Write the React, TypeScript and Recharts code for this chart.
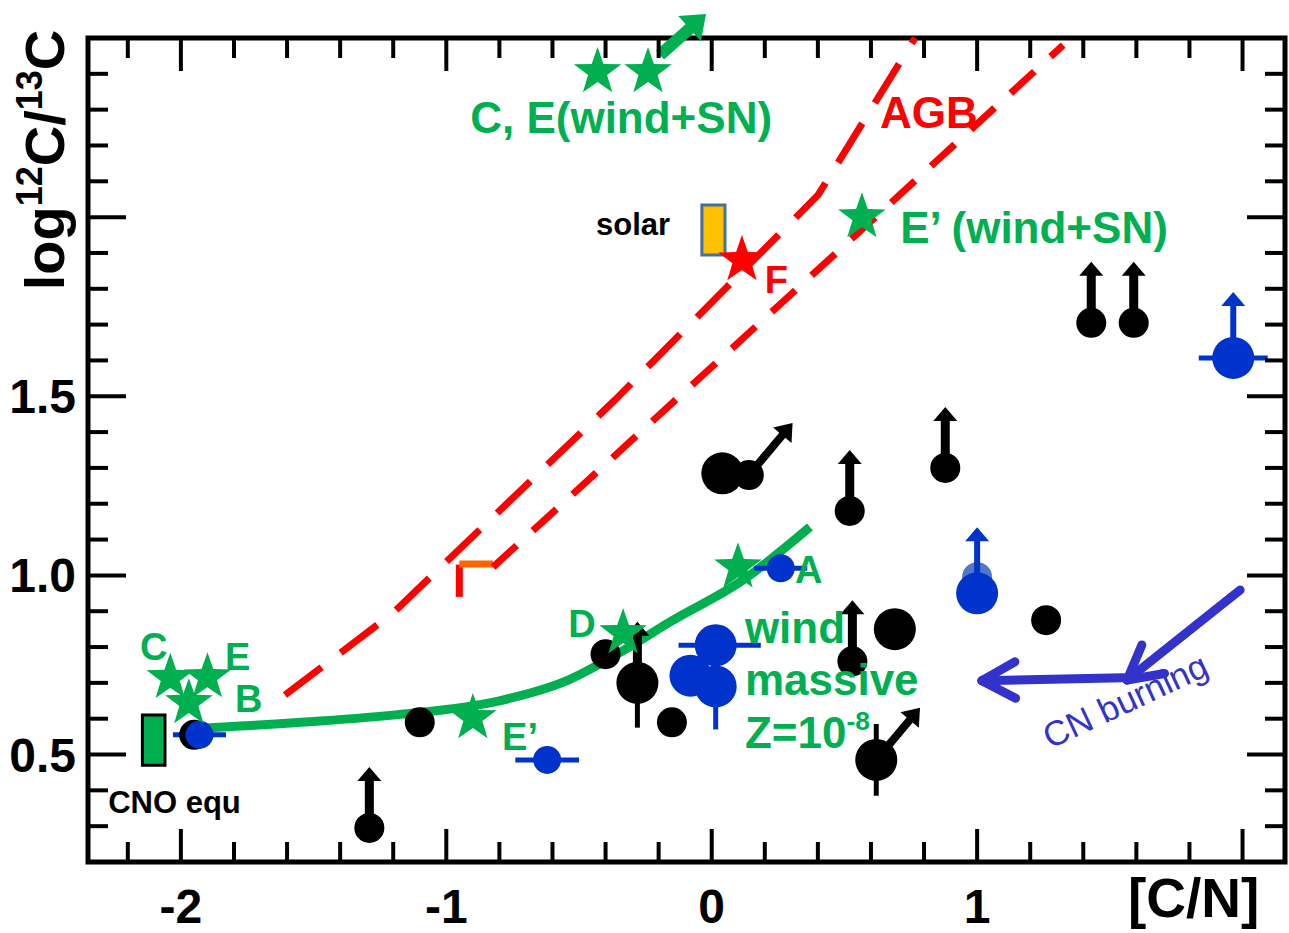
import React from 'react';
import { ComposedChart, XAxis, YAxis, Scatter, Line, ErrorBar, ReferenceArea, ReferenceLine } from 'recharts';

// ---- chart values ----

const xTicks = [-2.2, -2, -1.8, -1.6, -1.4, -1.2, -1, -0.8, -0.6, -0.4, -0.2, 0, 0.2, 0.4, 0.6, 0.8, 1, 1.2, 1.4, 1.6, 1.8, 2];
const xTickLabels = [
  { v: -2, text: '-2' },
  { v: -1, text: '-1' },
  { v: 0, text: '0' },
  { v: 1, text: '1' },
];
const yTicks = [0.3, 0.4, 0.5, 0.6, 0.7, 0.8, 0.9, 1, 1.1, 1.2, 1.3, 1.4, 1.5, 1.6, 1.7, 1.8, 1.9, 2, 2.1, 2.2, 2.3, 2.4];
const yTickLabels = [
  { v: 0.5, text: '0.5' },
  { v: 1, text: '1.0' },
  { v: 1.5, text: '1.5' },
];

// AGB model tracks (red dashed)
const agbUpper = [
  { x: -1.608, y: 0.666 },
  { x: -1.201, y: 0.895 },
  { x: -0.364, y: 1.49 },
  { x: 0.401, y: 2.062 },
  { x: 0.766, y: 2.5 },
];
const agbLower = [
  { x: -0.824, y: 1.023 },
  { x: 1.324, y: 2.48 },
];
// start of the lower track
const agbKinkV = [{ x: -0.951, y: 0.94 }, { x: -0.951, y: 1.03 }];
const agbKinkH = [{ x: -0.951, y: 1.032 }, { x: -0.824, y: 1.032 }];

// massive star wind, Z=1e-8 (green solid)
const windCurve = [
  { x: -1.98, y: 0.572 },
  { x: -1.5, y: 0.592 },
  { x: -1.175, y: 0.612 },
  { x: -0.8, y: 0.65 },
  { x: -0.55, y: 0.705 },
  { x: -0.334, y: 0.79 },
  { x: -0.157, y: 0.87 },
  { x: 0.118, y: 0.987 },
  { x: 0.37, y: 1.135 },
];

// observations
const blackSmall = [
  { x: -1.95, y: 0.555 },
  { x: -1.29, y: 0.295, lim: 'up' },
  { x: -1.1, y: 0.59 },
  { x: -0.4, y: 0.78 },
  { x: -0.15, y: 0.59 },
  { x: 0.14, y: 1.28, lim: 'diag' },
  { x: 0.52, y: 1.18, lim: 'up' },
  { x: 0.88, y: 1.3, lim: 'up' },
  { x: 0.53, y: 0.76, lim: 'up' },
  { x: 1.26, y: 0.875 },
  { x: 1.43, y: 1.705, lim: 'up' },
  { x: 1.59, y: 1.705, lim: 'up' },
];
const blackBig = [
  { x: 0.04, y: 1.285, ey: 0 },
  { x: -0.28, y: 0.7, lim: 'up', ey: [0.125, 0] },
  { x: 0.69, y: 0.85, ey: 0 },
  { x: 0.62, y: 0.485, lim: 'diag', ey: 0.1 },
];
const blueGhost = [{ x: 1.0, y: 0.995 }];
const blueSmall = [
  { x: -1.93, y: 0.555, ex: 0.1 },
  { x: -0.62, y: 0.485, ex: 0.12 },
  { x: 0.26, y: 1.02, ex: 0.1 },
];
const blueBig = [
  { x: 0.015, y: 0.805, ex: [0.14, 0.17], ey: 0 },
  { x: -0.08, y: 0.72, ex: 0, ey: 0 },
  { x: 0.015, y: 0.69, ex: 0, ey: [0.12, 0] },
  { x: 1.0, y: 0.95, lim: 'up', ex: 0, ey: 0 },
  { x: 1.965, y: 1.607, lim: 'up', ex: 0.13, ey: 0 },
];

// models
const greenStars = [
  { x: -0.43, y: 2.405 },
  { x: -0.24, y: 2.405, lim: 'diag' },
  { x: 0.566, y: 2.0 },
  { x: -2.04, y: 0.714 },
  { x: -1.9, y: 0.716 },
  { x: -1.97, y: 0.644 },
  { x: -0.9, y: 0.602 },
  { x: -0.334, y: 0.839 },
  { x: 0.099, y: 1.023 },
];
const redStars = [{ x: 0.114, y: 1.88 }];

const cnoBox = { x1: -2.145, x2: -2.06, y1: 0.47, y2: 0.61 };
const solarBox = { x1: -0.037, x2: 0.05, y1: 1.894, y2: 2.034 };

const cnArrows = [
  { x1: 1.991, y1: 0.959, x2: 1.565, y2: 0.708 },
  { x1: 1.55, y1: 0.714, x2: 1.018, y2: 0.706 },
];

// text annotations (data coordinates of the text start)
const greenBigNotes = [
  { x: -0.91, y: 2.235, text: 'C, E(wind+SN)' },
  { x: 0.71, y: 1.928, text: 'E\u2019 (wind+SN)' },
  { x: 0.125, y: 0.811, text: 'wind' },
  { x: 0.125, y: 0.666, text: 'massive' },
  { x: 0.125, y: 0.518, text: 'Z=10', sup: '-8' },
];
const greenLetterNotes = [
  { x: -2.154, y: 0.764, text: 'C' },
  { x: -1.834, y: 0.736, text: 'E' },
  { x: -1.796, y: 0.619, text: 'B' },
  { x: -0.79, y: 0.513, text: 'E\u2019' },
  { x: -0.541, y: 0.828, text: 'D' },
  { x: 0.314, y: 0.979, text: 'A' },
];
const redNotes = [
  { x: 0.634, y: 2.249, text: 'AGB', big: true },
  { x: 0.2, y: 1.788, text: 'F' },
];
const blackNotes = [
  { x: -0.436, y: 1.95, text: 'solar' },
  { x: -2.274, y: 0.337, text: 'CNO equ' },
];
const cnNotes = [{ x: 1.275, y: 0.515, text: 'CN burning' }];

// ---- layout ----
const W = 1289;
const H = 933;
const Y_AXIS_W = 88;
const X_AXIS_H = 71;
const MARGIN = { top: 38, right: 4, bottom: 0, left: 0 };
const PLOT_L = Y_AXIS_W;
const PLOT_R = W - MARGIN.right;
const PLOT_T = MARGIN.top;
const PLOT_B = H - X_AXIS_H;

const FONT = '"Liberation Sans", Arial, Helvetica, sans-serif';
const GREEN = '#00B050';
const RED = '#FF0000';
const BLUE = '#0033CC';
const CN_BLUE = '#3333CC';

const near = (a: number, b: number) => Math.abs(a - b) < 1e-6;

function XTick(props: any) {
  const { x, payload } = props;
  const v = payload.value;
  const len = near(v, Math.round(v)) ? 33 : 20;
  const lbl = xTickLabels.find((t) => near(t.v, v));
  return (
    <g>
      <line x1={x} x2={x} y1={PLOT_B} y2={PLOT_B - len} stroke="#000" strokeWidth={4} />
      <line x1={x} x2={x} y1={PLOT_T} y2={PLOT_T + len} stroke="#000" strokeWidth={4} />
      {lbl && (
        <text x={x} y={PLOT_B + 61} textAnchor="middle" fontFamily={FONT} fontWeight="bold" fontSize={48} fill="#000">
          {lbl.text}
        </text>
      )}
    </g>
  );
}

function YTick(props: any) {
  const { y, payload } = props;
  const v = payload.value;
  const len = near(v * 2, Math.round(v * 2)) ? 38 : 20;
  const lbl = yTickLabels.find((t) => near(t.v, v));
  return (
    <g>
      <line x1={PLOT_L} x2={PLOT_L + len} y1={y} y2={y} stroke="#000" strokeWidth={4} />
      <line x1={PLOT_R} x2={PLOT_R - len} y1={y} y2={y} stroke="#000" strokeWidth={4} />
      {lbl && (
        <text x={76} y={y + 17} textAnchor="end" fontFamily={FONT} fontWeight="bold" fontSize={48} fill="#000">
          {lbl.text}
        </text>
      )}
    </g>
  );
}

function XTitle() {
  return (
    <text x={1128} y={917} fontFamily={FONT} fontWeight="bold" fontSize={55} fill="#000">
      [C/N]
    </text>
  );
}

function YTitle() {
  return (
    <text
      x={64}
      y={160}
      transform="rotate(-90 64 160)"
      textAnchor="middle"
      fontFamily={FONT}
      fontWeight="bold"
      fontSize={56}
      fill="#000"
    >
      log<tspan fontSize={36} dy={-22}>12</tspan>
      <tspan dy={22}>C/</tspan>
      <tspan fontSize={36} dy={-22}>13</tspan>
      <tspan dy={22}>C</tspan>
    </text>
  );
}

function Arrow({ x1, y1, x2, y2, color, w, head, hw }: any) {
  const a = Math.atan2(y2 - y1, x2 - x1);
  const c = Math.cos(a);
  const s = Math.sin(a);
  const bx = x2 - head * c;
  const by = y2 - head * s;
  return (
    <g>
      <line x1={x1} y1={y1} x2={bx + c} y2={by + s} stroke={color} strokeWidth={w} />
      <polygon points={`${x2},${y2} ${bx - s * hw},${by + c * hw} ${bx + s * hw},${by - c * hw}`} fill={color} />
    </g>
  );
}

function limitArrow(lim: string | undefined, cx: number, cy: number, color: string) {
  if (lim === 'up') {
    return color === BLUE
      ? <Arrow x1={cx} y1={cy} x2={cx} y2={cy - 66} color={color} w={6} head={14} hw={12} />
      : <Arrow x1={cx} y1={cy} x2={cx} y2={cy - 61} color={color} w={9} head={14} hw={12} />;
  }
  if (lim === 'diag') {
    const a = (50 * Math.PI) / 180;
    return <Arrow x1={cx} y1={cy} x2={cx + 68 * Math.cos(a)} y2={cy - 68 * Math.sin(a)} color={color} w={8} head={16} hw={12} />;
  }
  return null;
}

const dot = (color: string, r: number) => (props: any) => {
  const { cx, cy, payload } = props;
  return (
    <g>
      {limitArrow(payload.lim, cx, cy, color)}
      <circle cx={cx} cy={cy} r={r} fill={color} />
    </g>
  );
};

function starPoints(cx: number, cy: number, R: number, r: number) {
  const pts: string[] = [];
  for (let i = 0; i < 10; i++) {
    const rad = i % 2 === 0 ? R : r;
    const a = -Math.PI / 2 + (i * Math.PI) / 5;
    pts.push(`${cx + rad * Math.cos(a)},${cy + rad * Math.sin(a)}`);
  }
  return pts.join(' ');
}

const star = (color: string) => (props: any) => {
  const { cx, cy, payload } = props;
  return (
    <g>
      <polygon points={starPoints(cx, cy, 25, 10)} fill={color} />
      {payload.lim === 'diag' && (
        <Arrow x1={cx + 12} y1={cy - 17} x2={cx + 58} y2={cy - 58} color={color} w={12} head={22} hw={17} />
      )}
    </g>
  );
};

const note = (color: string, size: number, weight: string) => (props: any) => {
  const { cx, cy, payload } = props;
  const fs = payload.big ? 44 : size;
  return (
    <text x={cx} y={cy} fontFamily={FONT} fontWeight={weight} fontSize={fs} fill={color}>
      {payload.text}
      {payload.sup && (
        <tspan fontSize={fs * 0.6} dy={-fs * 0.42}>
          {payload.sup}
        </tspan>
      )}
    </text>
  );
};

const cnNote = (props: any) => {
  const { cx, cy, payload } = props;
  return (
    <text x={cx} y={cy} transform={`rotate(-25 ${cx} ${cy})`} fontFamily={FONT} fontSize={35} fill={CN_BLUE}>
      {payload.text}
    </text>
  );
};

const openArrow = (props: any) => {
  const { x1, y1, x2, y2 } = props;
  const a = Math.atan2(y2 - y1, x2 - x1);
  const L = 38;
  const h1 = a + Math.PI - 0.5;
  const h2 = a + Math.PI + 0.5;
  return (
    <g stroke={CN_BLUE} strokeWidth={9} strokeLinecap="round" fill="none">
      <line x1={x1} y1={y1} x2={x2} y2={y2} />
      <line x1={x2} y1={y2} x2={x2 + L * Math.cos(h1)} y2={y2 + L * Math.sin(h1)} />
      <line x1={x2} y1={y2} x2={x2 + L * Math.cos(h2)} y2={y2 + L * Math.sin(h2)} />
    </g>
  );
};

export default function App() {
  return (
    <div style={{ position: 'absolute', left: 0, top: 0, width: W, height: H, background: '#fff' }}>
      <ComposedChart width={W} height={H} margin={MARGIN}>
        <XAxis
          type="number"
          dataKey="x"
          domain={[-2.35, 2.16]}
          ticks={xTicks}
          interval={0}
          tick={(p: any) => <XTick {...p} />}
          tickLine={false}
          axisLine={false}
          tickSize={0}
          tickMargin={0}
          height={X_AXIS_H}
          label={<XTitle />}
        />
        <YAxis
          type="number"
          dataKey="y"
          domain={[0.2, 2.5]}
          ticks={yTicks}
          interval={0}
          tick={(p: any) => <YTick {...p} />}
          tickLine={false}
          axisLine={false}
          tickSize={0}
          tickMargin={0}
          width={Y_AXIS_W}
          label={<YTitle />}
        />

        <ReferenceArea x1={-2.35} x2={2.16} y1={0.2} y2={2.5} fill="none" fillOpacity={0} stroke="#000" strokeWidth={5} />
        <ReferenceArea {...cnoBox} fill={GREEN} fillOpacity={1} stroke="#000" strokeWidth={3} />
        <ReferenceArea {...solarBox} fill="#FFC000" fillOpacity={1} stroke="#41719C" strokeWidth={3} />

        <ReferenceLine segment={agbKinkV} stroke={RED} strokeWidth={7} />
        <ReferenceLine segment={agbKinkH} stroke="#FF6600" strokeWidth={7} />

        <Line data={agbUpper} dataKey="y" type="linear" stroke={RED} strokeWidth={7} strokeDasharray="46 24" dot={false} activeDot={false} isAnimationActive={false} />
        <Line data={agbLower} dataKey="y" type="linear" stroke={RED} strokeWidth={7} strokeDasharray="32 22" dot={false} activeDot={false} isAnimationActive={false} />
        <Line data={windCurve} dataKey="y" type="monotone" stroke={GREEN} strokeWidth={9} dot={false} activeDot={false} isAnimationActive={false} />

        <Scatter data={blackSmall} shape={dot('#000', 15)} isAnimationActive={false} />
        <Scatter data={blackBig} shape={dot('#000', 21)} isAnimationActive={false}>
          <ErrorBar dataKey="ey" direction="y" width={0} stroke="#000" strokeWidth={5} />
        </Scatter>

        <Scatter data={blueGhost} shape={dot('#5077C8', 15)} isAnimationActive={false} />
        <Scatter data={blueSmall} shape={dot(BLUE, 14)} isAnimationActive={false}>
          <ErrorBar dataKey="ex" direction="x" width={0} stroke={BLUE} strokeWidth={5} />
        </Scatter>
        <Scatter data={blueBig} shape={dot(BLUE, 21)} isAnimationActive={false}>
          <ErrorBar dataKey="ex" direction="x" width={0} stroke={BLUE} strokeWidth={5} />
          <ErrorBar dataKey="ey" direction="y" width={0} stroke={BLUE} strokeWidth={5} />
        </Scatter>

        <Scatter data={greenStars} shape={star(GREEN)} isAnimationActive={false} />
        <Scatter data={redStars} shape={star(RED)} isAnimationActive={false} />

        <Scatter data={greenBigNotes} shape={note(GREEN, 44, 'bold')} isAnimationActive={false} />
        <Scatter data={greenLetterNotes} shape={note(GREEN, 38, 'bold')} isAnimationActive={false} />
        <Scatter data={redNotes} shape={note(RED, 38, 'bold')} isAnimationActive={false} />
        <Scatter data={blackNotes} shape={note('#000', 31, 'bold')} isAnimationActive={false} />
        <Scatter data={cnNotes} shape={cnNote} isAnimationActive={false} />

        {cnArrows.map((a, i) => (
          <ReferenceLine
            key={i}
            segment={[{ x: a.x1, y: a.y1 }, { x: a.x2, y: a.y2 }]}
            shape={openArrow}
          />
        ))}
      </ComposedChart>
    </div>
  );
}
